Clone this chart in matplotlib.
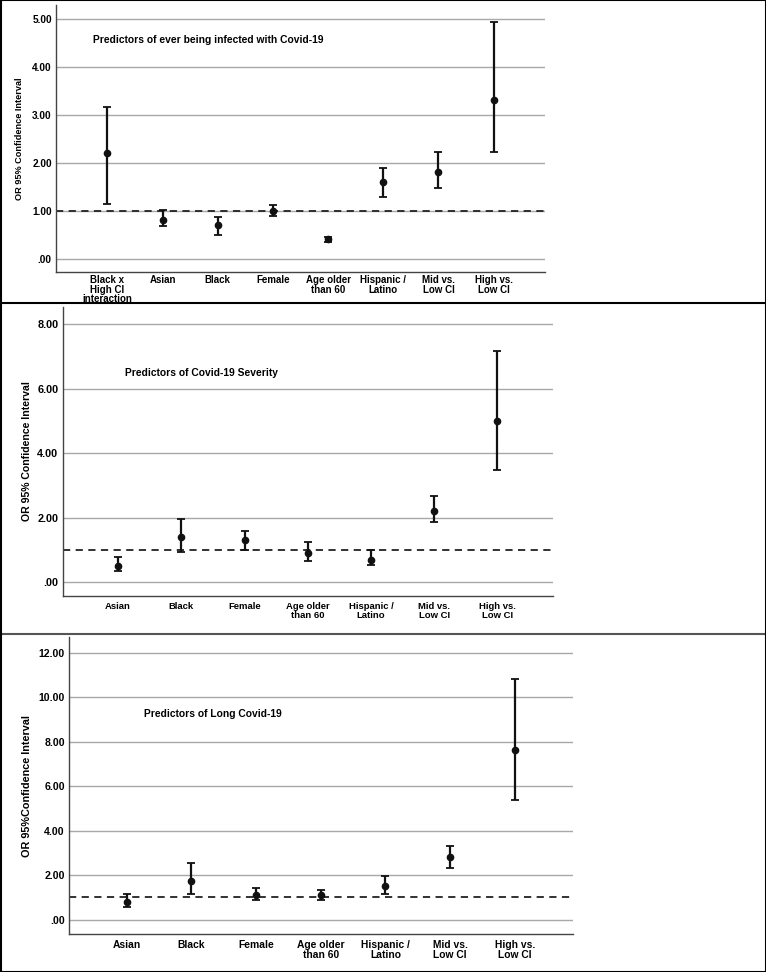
import matplotlib
matplotlib.use('Agg')
import matplotlib.pyplot as plt
from matplotlib.lines import Line2D

plt.rcParams['font.family'] = ['Liberation Sans', 'DejaVu Sans']
plt.rcParams['font.weight'] = 'bold'

# panel 1: ever infected
cats1 = ['Black x\nHigh CI\ninteraction', 'Asian', 'Black', 'Female', 'Age older\nthan 60',
         'Hispanic /\nLatino', 'Mid vs.\nLow CI', 'High vs.\nLow CI']
or1 = [2.20, 0.80, 0.70, 1.00, 0.40, 1.60, 1.81, 3.31]
lo1 = [1.15, 0.68, 0.50, 0.89, 0.34, 1.29, 1.48, 2.23]
hi1 = [3.17, 1.02, 0.87, 1.12, 0.45, 1.90, 2.22, 4.94]

# panel 2: severity
cats2 = ['Asian', 'Black', 'Female', 'Age older\nthan 60', 'Hispanic /\nLatino',
         'Mid vs.\nLow CI', 'High vs.\nLow CI']
or2 = [0.51, 1.41, 1.31, 0.90, 0.71, 2.21, 5.01]
lo2 = [0.35, 0.94, 1.02, 0.65, 0.53, 1.88, 3.49]
hi2 = [0.80, 1.98, 1.58, 1.24, 1.00, 2.68, 7.17]

# panel 3: long covid
cats3 = cats2
or3 = [0.81, 1.71, 1.11, 1.11, 1.50, 2.81, 7.60]
lo3 = [0.56, 1.17, 0.87, 0.87, 1.13, 2.31, 5.37]
hi3 = [1.16, 2.55, 1.40, 1.32, 1.95, 3.30, 10.82]

W, H = 766, 972
fig = plt.figure(figsize=(W / 100, H / 100), dpi=100)


def px_axes(left, right, top, bottom):
    return fig.add_axes([left / W, 1 - bottom / H, (right - left) / W, (bottom - top) / H])


def draw_panel(ax, cats, ors, los, his, yticks, ylim, xpad, title, title_xy, ylabel, ylab_x,
               xfs=7.3, yfs=7.3, labfs=7.3, lsp=1.05, xpad_pts=4):
    x = list(range(len(cats)))
    lower = [o - l for o, l in zip(ors, los)]
    upper = [h - o for o, h in zip(ors, his)]
    ax.errorbar(x, ors, yerr=[lower, upper], fmt='o', color='#111111', ms=4.5,
                elinewidth=1.6, capsize=3, capthick=1.3, zorder=3)
    ax.axhline(1.0, color='#222222', lw=1.3, ls=(0, (4, 3)), zorder=2)
    ax.set_yticks(yticks)
    ax.set_yticklabels(['.00' if t == 0 else f'{t:.2f}' for t in yticks])
    ax.set_ylim(*ylim)
    ax.set_xlim(-xpad, len(cats) - 1 + xpad)
    ax.set_xticks(x)
    ax.set_xticklabels(cats)
    for lab in ax.get_xticklabels():
        lab.set_linespacing(lsp)
    ax.tick_params(length=0)
    ax.tick_params(axis='x', labelsize=xfs, pad=xpad_pts)
    ax.tick_params(axis='y', labelsize=yfs, pad=3)
    ax.grid(axis='y', color='#a8a8a8', lw=1.0)
    ax.set_axisbelow(True)
    for s in ['top', 'right']:
        ax.spines[s].set_visible(False)
    for s in ['left', 'bottom']:
        ax.spines[s].set_color('#444444')
        ax.spines[s].set_linewidth(1.0)
    ax.text(title_xy[0], title_xy[1], title, transform=fig.transFigure, fontsize=7.4,
            fontweight='bold', ha='left', va='center')
    ax.set_ylabel(ylabel, fontsize=labfs, fontweight='bold')
    ax.yaxis.set_label_coords(ylab_x, 0.5)


ax1 = px_axes(56, 545, 5, 272)
draw_panel(ax1, cats1, or1, lo1, hi1, [0, 1, 2, 3, 4, 5], (-0.28, 5.30), 0.93,
           'Predictors of ever being infected with Covid-19', (93 / W, 1 - 40 / H),
           'OR 95% Confidence Interval', (24 - 56) / 489, xfs=7.0, yfs=7.3, labfs=6.6,
           lsp=0.92, xpad_pts=2.5)

ax2 = px_axes(62.5, 553, 307, 596)
draw_panel(ax2, cats2, or2, lo2, hi2, [0, 2, 4, 6, 8], (-0.42, 8.54), 0.88,
           'Predictors of Covid-19 Severity', (125 / W, 1 - 373 / H),
           'OR 95% Confidence Interval', (32 - 62.5) / 490.5, xfs=6.8, yfs=7.8, labfs=7.6)

ax3 = px_axes(69, 572.5, 637, 934)
draw_panel(ax3, cats3, or3, lo3, hi3, [0, 2, 4, 6, 8, 10, 12], (-0.65, 12.7), 0.89,
           'Predictors of Long Covid-19', (144 / W, 1 - 714 / H),
           'OR 95%Confidence Interval', (32 - 69) / 503.5, xfs=7.4, yfs=7.6, labfs=7.8)

# outer frame and panel separators
def hline(y, color='black', lw=1.5):
    fig.add_artist(Line2D([0, 1], [1 - y / H, 1 - y / H], color=color, lw=lw,
                          transform=fig.transFigure))

hline(0.5)
hline(303)
hline(634, color='#555555')
hline(971.5)
for xx in [0.5 / W, 1 - 0.5 / W]:
    fig.add_artist(Line2D([xx, xx], [0, 1], color='black', lw=1.5, transform=fig.transFigure))

fig.savefig('out.png', dpi=100)
